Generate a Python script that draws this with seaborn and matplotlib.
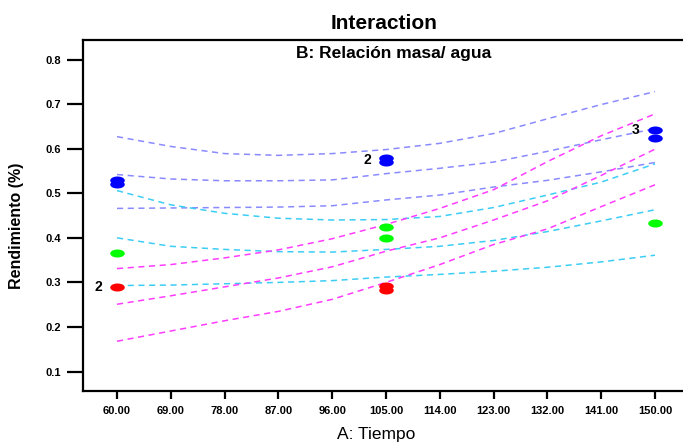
import numpy as np
import pandas as pd
import matplotlib
matplotlib.use("Agg")
import matplotlib.pyplot as plt
import seaborn as sns

# ---------------- data ----------------
tiempo = [60, 69, 78, 87, 96, 105, 114, 123, 132, 141, 150]

blue_upper = [0.627, 0.605, 0.589, 0.585, 0.589, 0.598, 0.612, 0.634, 0.667, 0.699, 0.728]
blue_mid   = [0.542, 0.532, 0.528, 0.528, 0.530, 0.544, 0.556, 0.570, 0.594, 0.620, 0.645]
blue_lower = [0.466, 0.467, 0.468, 0.469, 0.472, 0.485, 0.496, 0.514, 0.529, 0.548, 0.569]

cyan_upper = [0.506, 0.474, 0.455, 0.444, 0.440, 0.441, 0.448, 0.468, 0.496, 0.525, 0.566]
cyan_mid   = [0.400, 0.381, 0.374, 0.369, 0.368, 0.374, 0.381, 0.394, 0.414, 0.438, 0.463]
cyan_lower = [0.293, 0.294, 0.297, 0.300, 0.304, 0.312, 0.318, 0.325, 0.334, 0.346, 0.361]

mag_upper = [0.331, 0.340, 0.355, 0.373, 0.398, 0.430, 0.466, 0.508, 0.571, 0.629, 0.678]
mag_mid   = [0.251, 0.270, 0.290, 0.310, 0.335, 0.370, 0.400, 0.440, 0.483, 0.540, 0.599]
mag_lower = [0.168, 0.191, 0.214, 0.235, 0.262, 0.300, 0.340, 0.385, 0.420, 0.470, 0.519]

# design points
blue_x = [60, 60, 105, 105, 150, 150]
blue_y = [0.521, 0.529, 0.571, 0.579, 0.643, 0.624]
green_x = [60, 105, 105, 150]
green_y = [0.366, 0.425, 0.400, 0.433]
red_x = [60, 105, 105]
red_y = [0.290, 0.283, 0.291]

# point labels (count of replicates)
lab_text = ["2", "2", "3"]
lab_x = [60, 105, 150]
lab_y = [0.290, 0.575, 0.643]

x_ticks = [60, 69, 78, 87, 96, 105, 114, 123, 132, 141, 150]
y_ticks = [0.1, 0.2, 0.3, 0.4, 0.5, 0.6, 0.7, 0.8]

title = "Interaction"
subtitle = "B: Relación masa/ agua"
xlabel = "A: Tiempo"
ylabel = "Rendimiento (%)"

# ---------------- style ----------------
sns.set_style("ticks")
plt.rcParams["font.family"] = ["Liberation Sans", "DejaVu Sans"]
plt.rcParams["text.color"] = "black"

W, H = 683, 443
fig = plt.figure(figsize=(W / 100, H / 100), dpi=100)
ax = fig.add_axes([83 / W, 52 / H, 1 - 83 / W, (391 - 40) / H])

C_BLUE = "#8a8aff"
C_CYAN = "#3ccdf5"
C_MAG = "#ff3cff"

line_sets = [
    (blue_upper, C_BLUE), (blue_mid, C_BLUE), (blue_lower, C_BLUE),
    (cyan_upper, C_CYAN), (cyan_mid, C_CYAN), (cyan_lower, C_CYAN),
    (mag_upper, C_MAG), (mag_mid, C_MAG), (mag_lower, C_MAG),
]
for vals, col in line_sets:
    sns.lineplot(x=tiempo, y=vals, ax=ax, color=col, linewidth=1.1,
                 dashes=False, linestyle=(0, (4, 3)), legend=False)

# ellipse marker
t = np.linspace(0, 2 * np.pi, 40)
ell = np.column_stack([np.cos(t), 0.55 * np.sin(t)])

for xs, ys, col in [(blue_x, blue_y, "#0000ff"), (green_x, green_y, "#00ff00"),
                    (red_x, red_y, "#ff0000")]:
    sns.scatterplot(x=xs, y=ys, ax=ax, color=col, marker=ell, s=110,
                    linewidth=0, legend=False, zorder=5)

for txt, xx, yy in zip(lab_text, lab_x, lab_y):
    ax.annotate(txt, (xx, yy), xytext=(-11, 0), textcoords="offset points",
                ha="right", va="center", fontsize=10, fontweight="bold", color="black")

ax.set_xlim(54.31, 154.68)
ax.set_ylim(0.0564, 0.8438)
ax.set_xticks(x_ticks)
ax.set_xticklabels([f"{v:.2f}" for v in x_ticks])
ax.set_yticks(y_ticks)
ax.set_yticklabels([f"{v:.1f}" for v in y_ticks])

for s in ["left", "bottom", "top"]:
    ax.spines[s].set_linewidth(1.6)
    ax.spines[s].set_color("black")
ax.spines["right"].set_visible(False)

ax.tick_params(axis="y", length=11.5, width=1.6, pad=4, labelsize=8, colors="black")
ax.tick_params(axis="x", length=5.8, width=1.6, pad=5, labelsize=8, colors="black")
for lab in ax.get_xticklabels() + ax.get_yticklabels():
    lab.set_fontweight("bold")
    lab.set_color("black")

ax.set_xlabel("")
ax.set_ylabel("")

fig.text(384 / W, 1 - 29.3 / H, title, ha="center", va="baseline", fontsize=15,
         fontweight="bold", color="black")
fig.text(393.5 / W, 1 - 58.3 / H, subtitle, ha="center", va="baseline", fontsize=12.5,
         fontweight="bold", color="black")
fig.text(376 / W, 1 - 439 / H, xlabel, ha="center", va="baseline", fontsize=12.5,
         color="black")
fig.text(17 / W, 1 - 226 / H, ylabel, ha="center", va="center", rotation=90,
         fontsize=11.5, fontweight="bold", color="black")

fig.savefig("out.png", dpi=100)
